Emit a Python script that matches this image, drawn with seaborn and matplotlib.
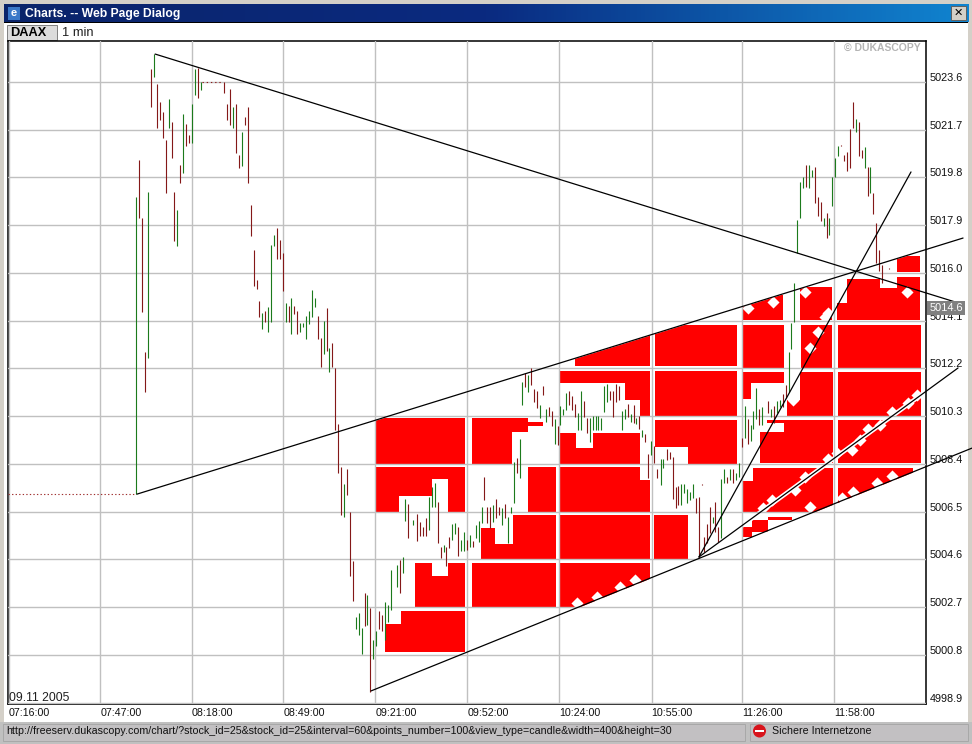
import numpy as np
import pandas as pd
import matplotlib
matplotlib.use("Agg")
import matplotlib.pyplot as plt
from matplotlib.patches import Rectangle, Circle
from matplotlib.transforms import ScaledTranslation
import seaborn as sns

# one minute bars (G = up bar, R = down bar)
bar_minute = [
    480, 481, 482, 483, 484, 485.1, 486.1, 487.1, 488.2, 489.2,
    490.2, 491.2, 492.2, 492.9, 493.9, 495, 496, 497, 498, 499,
    500.1, 501.1, 502.1, 509.9, 511, 512, 513, 514, 515, 516,
    517.1, 518.1, 519.1, 520.1, 521.1, 521.8, 522.8, 523.9, 524.9, 525.9,
    526.9, 527.9, 529, 530, 531, 532, 532.7, 533.7, 534.7, 535.8,
    536.8, 537.8, 538.8, 539.8, 540.9, 541.9, 542.9, 543.9, 544.9, 545.6,
    546.6, 547.7, 548.7, 549.7, 550.7, 551.7, 552.8, 553.8, 554.8, 555.8,
    556.8, 557.9, 558.5, 559.6, 560.6, 561.6, 562.6, 563.6, 564.7, 565.7,
    566.7, 568.7, 569.8, 570.8, 571.5, 572.5, 574.2, 575.5, 576.6, 577.6,
    578.6, 579.6, 580.6, 581.7, 582.7, 583.7, 584.7, 585.4, 586.4, 587.4,
    588.5, 589.5, 590.5, 591.5, 592.5, 593.6, 594.6, 595.6, 596.6, 597.6,
    598.3, 599.3, 600.3, 601.4, 602.4, 603.4, 604.4, 605.4, 606.5, 607.5,
    608.5, 609.5, 610.6, 611.2, 612.3, 613.3, 614.3, 615.3, 616.4, 617.4,
    618.4, 619.4, 620.4, 621.4, 622.5, 623.5, 624.2, 625.2, 626.2, 627.2,
    628.2, 629.3, 630.3, 631.3, 632.3, 633.3, 634.4, 635.4, 636.4, 637,
    638.1, 639.1, 640.1, 641.2, 642.2, 643.2, 644.2, 645.2, 646.3, 647.3,
    648.3, 649.3, 650, 651, 652.1, 653.1, 654.1, 655.1, 656.1, 657.2,
    658.3, 659.2, 660.3, 661.4, 662.4, 663.4, 664.1, 665.1, 666.1, 667.1,
    668.2, 669.2, 670.2, 671.2, 672.2, 673.1, 674.1, 675.2, 676.1, 676.9,
    677.9, 678.9, 679.9, 681, 682, 683, 684, 685, 686, 687,
    688, 689, 689.8, 690.8, 691.8, 692.8, 694.9, 695.9, 696.9, 698,
    699, 700, 701, 702, 702.7, 703.7, 704.8, 705.8, 706.8, 707.8,
    708.8, 709.9, 710.9, 711.9, 712.9, 713.9, 714.9, 715.6, 716.6, 717.7,
    718.7, 719.7, 720.7, 721.8, 722.8, 723.8, 724.8, 725.8, 726.9, 727.9,
    728.9, 729.6, 730.6, 731.6, 732.6, 733.7, 736,
]
bar_high = [
    5019.02, 5020.49, 5018.19, 5012.85, 5019.22, 5024.11, 5024.71, 5023.52, 5022.80, 5022.40,
    5021.29, 5022.92, 5022.01, 5019.22, 5018.50, 5020.29, 5022.32, 5021.93, 5021.49, 5022.72,
    5024.11, 5024.15, 5023.60, 5023.60, 5022.72, 5023.32, 5022.60, 5022.72, 5020.69, 5021.61,
    5022.20, 5022.60, 5018.70, 5016.91, 5015.72, 5014.88, 5014.41, 5014.49, 5014.64, 5017.11,
    5017.51, 5017.79, 5017.31, 5016.79, 5014.80, 5014.68, 5015.00, 5014.68, 5014.49, 5014.01,
    5014.01, 5014.29, 5014.49, 5015.32, 5015.00, 5014.29, 5013.41, 5014.09, 5014.60, 5013.01,
    5013.21, 5012.22, 5009.99, 5008.28, 5007.60, 5008.20, 5006.49, 5004.54, 5002.31, 5002.47,
    5001.87, 5003.26, 5003.18, 5002.67, 5001.39, 5001.75, 5002.55, 5002.39, 5002.91, 5002.79,
    5004.18, 5004.38, 5004.58, 5004.70, 5007.00, 5006.81, 5006.17, 5006.41, 5006.09, 5005.89,
    5006.25, 5007.08, 5007.48, 5007.64, 5006.89, 5005.09, 5005.17, 5005.09, 5005.49, 5006.01,
    5006.05, 5005.89, 5005.37, 5005.69, 5005.37, 5005.57, 5005.33, 5005.97, 5006.13, 5006.69,
    5007.88, 5006.69, 5006.69, 5006.77, 5007.00, 5006.69, 5006.65, 5006.81, 5006.29, 5006.69,
    5008.48, 5008.64, 5009.39, 5011.66, 5012.02, 5011.94, 5012.22, 5011.38, 5011.30, 5010.75,
    5011.50, 5010.59, 5010.67, 5010.51, 5010.19, 5009.91, 5010.71, 5010.59, 5011.22, 5011.30,
    5011.10, 5010.78, 5010.43, 5011.30, 5010.90, 5010.23, 5010.23, 5010.31, 5010.31, 5010.31,
    5010.23, 5011.50, 5011.58, 5011.30, 5011.30, 5011.58, 5011.50, 5010.51, 5010.59, 5010.78,
    5010.39, 5010.75, 5010.23, 5010.31, 5009.75, 5009.59, 5008.80, 5009.31, 5009.11, 5008.20,
    5008.60, 5008.60, 5008.99, 5008.87, 5008.68, 5007.48, 5007.52, 5007.60, 5007.60, 5007.40,
    5007.28, 5007.60, 5007.04, 5007.08, 5007.60, 5005.49, 5006.01, 5006.69, 5006.29, 5006.89,
    5005.89, 5007.80, 5008.20, 5007.88, 5008.20, 5008.20, 5008.04, 5008.44, 5009.43, 5010.71,
    5010.19, 5009.95, 5010.51, 5011.42, 5010.59, 5010.67, 5010.90, 5010.59, 5010.71, 5010.90,
    5010.94, 5011.18, 5011.54, 5012.85, 5014.01, 5015.60, 5018.11, 5019.62, 5019.82, 5020.29,
    5020.29, 5020.10, 5020.22, 5019.02, 5018.82, 5018.19, 5018.38, 5018.19, 5019.82, 5020.57,
    5021.05, 5021.09, 5020.69, 5020.81, 5021.73, 5022.80, 5022.12, 5022.01, 5020.89, 5021.01,
    5020.22, 5020.22, 5019.18, 5017.99, 5016.91, 5016.32, 5016.20,
]
bar_low = [
    5007.20, 5018.19, 5014.45, 5011.26, 5012.62, 5022.60, 5023.80, 5021.77, 5022.09, 5021.37,
    5019.18, 5021.77, 5020.57, 5017.27, 5017.07, 5019.58, 5019.98, 5021.05, 5021.17, 5021.17,
    5023.08, 5022.96, 5023.28, 5023.16, 5022.09, 5021.89, 5021.77, 5020.77, 5020.18, 5020.25,
    5021.89, 5019.58, 5017.47, 5015.48, 5015.36, 5014.25, 5013.77, 5014.05, 5013.65, 5014.05,
    5017.07, 5016.55, 5016.55, 5015.28, 5014.05, 5014.05, 5013.57, 5014.37, 5013.57, 5013.65,
    5013.85, 5013.37, 5013.97, 5014.25, 5014.64, 5013.37, 5012.26, 5012.77, 5012.89, 5012.06,
    5012.26, 5009.75, 5008.04, 5006.37, 5006.29, 5007.16, 5003.94, 5002.95, 5001.83, 5001.59,
    5000.84, 5001.95, 5001.99, 4999.33, 5000.64, 5001.16, 5001.83, 5001.75, 5001.39, 5002.11,
    5002.59, 5003.50, 5003.26, 5004.06, 5006.13, 5005.45, 5005.97, 5005.33, 5005.53, 5005.53,
    5005.53, 5005.77, 5006.69, 5006.69, 5005.25, 5004.66, 5004.90, 5004.34, 5005.06, 5005.37,
    5005.61, 5004.74, 5004.94, 5004.94, 5004.98, 5005.09, 5005.09, 5005.45, 5005.29, 5006.05,
    5006.96, 5006.05, 5005.85, 5006.09, 5006.25, 5006.37, 5005.97, 5006.25, 5005.25, 5006.45,
    5006.85, 5008.04, 5007.84, 5010.75, 5011.46, 5011.26, 5011.54, 5010.86, 5010.63, 5010.23,
    5011.14, 5010.07, 5010.31, 5009.91, 5009.19, 5009.15, 5009.95, 5010.35, 5010.55, 5010.75,
    5010.55, 5010.27, 5009.75, 5009.75, 5010.27, 5009.63, 5009.27, 5009.75, 5009.75, 5009.75,
    5009.75, 5010.47, 5010.86, 5010.94, 5010.27, 5010.86, 5010.94, 5009.75, 5010.19, 5010.27,
    5010.07, 5010.03, 5009.99, 5009.79, 5009.47, 5009.27, 5007.84, 5008.76, 5008.44, 5007.84,
    5007.56, 5008.24, 5008.56, 5008.60, 5007.00, 5006.65, 5006.77, 5006.77, 5007.24, 5006.85,
    5006.96, 5007.04, 5006.45, 5004.66, 5007.56, 5004.90, 5005.25, 5005.65, 5006.05, 5005.69,
    5005.29, 5005.45, 5007.64, 5007.64, 5007.76, 5007.64, 5007.76, 5007.88, 5009.07, 5009.43,
    5009.19, 5009.31, 5009.79, 5010.19, 5009.95, 5009.95, 5010.43, 5010.27, 5010.03, 5010.43,
    5010.67, 5010.67, 5011.02, 5011.26, 5012.97, 5014.05, 5016.79, 5018.19, 5019.38, 5019.42,
    5019.38, 5019.82, 5018.78, 5018.27, 5018.07, 5017.87, 5017.39, 5017.51, 5018.66, 5019.82,
    5020.65, 5021.05, 5020.45, 5020.06, 5020.18, 5021.77, 5021.61, 5020.65, 5020.57, 5020.18,
    5019.06, 5019.18, 5018.35, 5016.40, 5016.08, 5015.60, 5016.16,
]
bar_dir = list(
    "GRRRGRGRRR" "RGRRGRGRRG" "GRGRRRGRRG" "RRRRRRGRGG"
    "GRRRGRGRRG" "GGGGGRRGRG" "RRRRGRRRGG" "GRGRGGRRGG"
    "GGRGGRGRRR" "RGGGRRGRRG" "GRGGRGRGGG" "RRRGRRGRGG"
    "GRGGRGRRRG" "RGRRGRGGGR" "RRGGRRGGGG" "GGGRRRRGGR"
    "GRGRGRRGRR" "GGRRRRRGGG" "GGRRRRRRGR" "RGGRGRGGRG"
    "RGGGRGRGRG" "GRRGGGGGGR" "GGRRRGRGGG" "GRRRRRGRRG"
    "RGRRRRR"
)

# the other marks
dotted_minute = [436.4, 480]
dotted_price = [5007.20, 5007.20]
flat_minute = [502.5, 509.5]
flat_price = [5023.60, 5023.60]

falling_t = [486.4, 760.8]
falling_p = [5024.71, 5014.76]
upper_t = [480.2, 761.1]
upper_p = [5007.20, 5017.39]
lower_t = [559.8, 764.1]
lower_p = [4999.37, 5009.03]
second_t = [671.3, 759.4]
second_p = [5004.70, 5012.22]
steep_t = [671.3, 743.4]
steep_p = [5004.70, 5020.02]

# red zones: start, end, low, high
zone_t0 = [
    561.5, 561.5, 569.3, 580.5, 586, 574.8, 580.5, 586, 570, 564.6,
    594.1, 613.2, 594.1, 613.2, 608.1, 597.2, 602, 594.1,
    629.2, 624.1, 646.2, 651.3, 624.1, 629.5, 635.3, 624.1, 651.3, 624.1, 624.1,
    656.4, 656.4, 656.4, 667.6, 656,
    686.3, 705.7, 686.3, 706, 686.3, 686.3, 705.7, 701.2, 700.2, 692, 694.4,
    689.7, 686.3, 689.4, 686.3, 694.8,
    718.2, 721.6, 732.9, 738.6, 738.6, 718.6, 718.6, 718.6, 718.6,
]
zone_t1 = [
    591.8, 569.3, 580.5, 586, 591.8, 580.5, 586, 591.8, 591.8, 591.8,
    613.2, 618.3, 607.7, 622.7, 622.7, 602, 608.1, 622.7,
    654.7, 654.7, 654.7, 654.7, 629.5, 635.3, 651.3, 651.3, 654.7, 654.7, 654.7,
    684.2, 684.2, 667.6, 684.2, 667.6,
    699.9, 716.5, 700.2, 716.5, 700.2, 689, 716.9, 705.7, 716.9, 700.2, 700.2,
    716.9, 689.7, 694.8, 689.4, 702.9,
    721.6, 732.9, 746.5, 746.5, 746.5, 746.8, 746.8, 746.8, 744.1,
]
zone_low = [
    5008.40, 5006.49, 5007.12, 5007.80, 5006.49, 5002.71, 5002.71, 5002.71, 5002.03, 5000.92,
    5009.67, 5009.91, 5008.40, 5006.49, 5004.58, 5004.58, 5004.58, 5002.71,
    5012.30, 5011.62, 5010.94, 5010.31, 5008.40, 5008.40, 5008.40, 5006.49, 5006.49, 5004.58, 5002.71,
    5012.30, 5010.31, 5009.07, 5008.40, 5004.58,
    5014.13, 5014.13, 5012.22, 5012.22, 5011.62, 5010.99, 5010.31, 5010.31, 5008.44, 5008.44, 5010.03,
    5006.49, 5006.49, 5005.69, 5005.49, 5006.17,
    5014.13, 5014.13, 5014.13, 5016.04, 5015.40, 5012.22, 5010.31, 5008.44, 5006.73,
]
zone_high = [
    5010.23, 5008.28, 5008.28, 5008.28, 5008.28, 5004.46, 5003.94, 5004.46, 5002.55, 5002.03,
    5010.23, 5010.07, 5009.67, 5008.28, 5006.37, 5005.85, 5005.21, 5004.46,
    5013.60, 5012.10, 5011.62, 5010.94, 5009.63, 5009.03, 5009.63, 5008.28, 5007.76, 5006.37, 5004.46,
    5013.93, 5012.10, 5010.15, 5010.15, 5006.37,
    5015.12, 5015.44, 5013.93, 5013.93, 5012.06, 5011.62, 5012.06, 5010.94, 5010.15, 5009.67, 5010.15,
    5008.24, 5007.72, 5006.17, 5005.89, 5006.29,
    5014.80, 5015.76, 5015.40, 5016.67, 5015.84, 5013.93, 5012.06, 5010.15, 5008.24,
]

# white specks where the fill frays along the trend lines
speck_t = [
    693.1, 696.1, 704, 707.4, 715.2, 718.2, 723.3, 726.1, 728.8, 732.9, 736.9, 742.4, 745.5,
    736.9, 731.8, 723.7, 719.9, 709.1, 629.8, 636.6, 644.5, 649.6,
    714.2, 711.8, 709.1, 703.3, 688, 696.5, 707.4, 742, 715.2,
]
speck_p = [
    5006.65, 5006.96, 5007.36, 5007.88, 5008.60, 5008.84, 5008.95, 5009.35, 5009.79, 5009.95, 5010.47, 5010.82, 5011.14,
    5007.92, 5007.64, 5007.28, 5007.04, 5006.69, 5002.87, 5003.11, 5003.50, 5003.78,
    5014.25, 5013.65, 5013.01, 5010.94, 5014.60, 5014.84, 5015.24, 5015.24, 5014.41,
]

x_ticks = [436.6, 467.8, 498.8, 530.0, 561.3, 592.5, 623.8, 655.2, 686.0, 717.3]
x_labels = ["07:16:00", "07:47:00", "08:18:00", "08:49:00", "09:21:00",
            "09:52:00", "10:24:00", "10:55:00", "11:26:00", "11:58:00"]
y_ticks = [5023.6, 5021.7, 5019.8, 5017.9, 5016.0, 5014.1, 5012.2,
           5010.3, 5008.4, 5006.5, 5004.6, 5002.7, 5000.8, 4998.9]
last_price = 5014.6

sns.set_theme(style="white")
plt.rcParams["font.family"] = ["Liberation Sans", "DejaVu Sans"]

fig = plt.figure(figsize=(9.72, 7.44), dpi=100)

# window around the chart, in screen pixels
chrome = fig.add_axes([0, 0, 1, 1], zorder=0)
chrome.set_xlim(0, 972)
chrome.set_ylim(744, 0)
chrome.axis("off")
chrome.add_patch(Rectangle((0, 0), 972, 744, color="#d4d0c8", lw=0))
chrome.add_patch(Rectangle((4, 23), 964, 700, color="white", lw=0))
gradient = np.linspace(0, 1, 256).reshape(1, -1)
blues = matplotlib.colors.LinearSegmentedColormap.from_list("title", ["#0a246a", "#0a2a80", "#1084d0"])
chrome.imshow(gradient, extent=(4, 968, 22, 4), aspect="auto", cmap=blues, zorder=1)
chrome.set_xlim(0, 972)
chrome.set_ylim(744, 0)
chrome.add_patch(Rectangle((4, 22), 964, 1.2, color="black", lw=0, zorder=2))
chrome.text(25, 13.5, "Charts. -- Web Page Dialog", color="white", fontsize=8.7,
            fontweight="bold", va="center", zorder=3)
chrome.add_patch(Rectangle((8, 7), 12, 13, color="#3a78c8", lw=0, zorder=3))
chrome.text(14, 13.5, "e", color="white", fontsize=8, fontweight="bold", ha="center", va="center", zorder=4)
chrome.add_patch(Rectangle((951, 6), 15, 14, facecolor="#d4d0c8", edgecolor="#606060", lw=0.7, zorder=3))
chrome.text(958.5, 13, "\u2715", color="black", fontsize=8, fontweight="bold", ha="center", va="center",
            family="DejaVu Sans", zorder=4)
chrome.add_patch(Rectangle((7, 25), 50, 15, facecolor="#dcdcdc", edgecolor="#808080", lw=0.7, zorder=3))
chrome.text(10.5, 32.5, "DAAX", color="black", fontsize=9.2, fontweight="bold", va="center", zorder=4)
chrome.text(62, 32.5, "1 min", color="#202020", fontsize=9.3, va="center", zorder=4)
chrome.add_patch(Rectangle((0, 722), 972, 22, color="#c0c0c0", lw=0, zorder=3))
chrome.add_patch(Rectangle((3, 724), 742, 17, facecolor="#c2c0c2", edgecolor="#a4a4a4", lw=0.6, zorder=3))
chrome.add_patch(Rectangle((750, 724), 218, 17, facecolor="#c2c0c2", edgecolor="#a4a4a4", lw=0.6, zorder=3))
chrome.text(6, 731.5, "http://freeserv.dukascopy.com/chart/?stock_id=25&stock_id=25&interval=60"
            "&points_number=100&view_type=candle&width=400&height=30",
            color="#101010", fontsize=7.7, va="center", zorder=4)
chrome.add_patch(Circle((759.5, 731), 6.5, color="#d8141c", lw=0, zorder=4))
chrome.add_patch(Rectangle((755, 729.8), 9, 2.6, color="white", lw=0, zorder=5))
chrome.text(772, 731.5, "Sichere Internetzone", color="#101010", fontsize=7.7, va="center", zorder=4)

ax = fig.add_axes([8 / 972, 1 - 704 / 744, 918 / 972, 663 / 744], zorder=2)
ax.set_xlim(436.37, 748.5)
ax.set_ylim(4998.85, 5025.23)
ax.set_facecolor("white")

ax.bar(zone_t0, np.array(zone_high) - np.array(zone_low), width=np.array(zone_t1) - np.array(zone_t0),
       bottom=zone_low, align="edge", color="#ff0000", lw=0, zorder=1)
ax.fill_between(upper_t, upper_p, 5030, color="white", lw=0, zorder=1.5)
ax.fill_between(lower_t, lower_p, 4990, color="white", lw=0, zorder=1.5)
ax.plot(second_t, second_p, color="white", lw=3.2, zorder=1.6)
ax.scatter(speck_t, speck_p, s=38, marker="D", color="white", lw=0, zorder=1.7)

ax.set_axisbelow(False)
ax.grid(True, color="#c0c0c0", lw=1.0)
ax.set_xticks(x_ticks)
ax.set_xticklabels(x_labels, ha="left", fontsize=7.7, color="#101010")
ax.set_yticks(y_ticks)
ax.set_yticklabels([f"{v:.1f}" for v in y_ticks], va="center", fontsize=7.8, color="#101010")
ax.yaxis.tick_right()
ax.tick_params(axis="x", length=0, pad=3)
ax.tick_params(axis="y", length=0, pad=2.5)
# price labels sit just above their grid line
lift = ScaledTranslation(0, 4 / 100, fig.dpi_scale_trans)
for lbl in ax.get_yticklabels():
    lbl.set_transform(lbl.get_transform() + lift)
for s in ax.spines.values():
    s.set_color("black")
    s.set_linewidth(1.1)

bars = pd.DataFrame({"minute": bar_minute, "high": bar_high, "low": bar_low, "dir": bar_dir})
bar_colors = bars["dir"].map({"G": "#1c7a1c", "R": "#841818"})
ax.vlines(bars["minute"], bars["low"], bars["high"], colors=bar_colors, lw=1.9, alpha=0.07, zorder=2.9)
ax.vlines(bars["minute"], bars["low"], bars["high"], colors=bar_colors, lw=0.72, snap=True, zorder=3)

ax.plot(dotted_minute, dotted_price, color="#a03030", lw=0.8, ls=(0, (1.2, 2)), zorder=3)
ax.plot(flat_minute, flat_price, color="#8c1c1c", lw=0.8, ls=(0, (1.2, 2.6)), zorder=3)

trend = pd.concat([
    pd.DataFrame({"t": falling_t, "p": falling_p, "name": "falling"}),
    pd.DataFrame({"t": upper_t, "p": upper_p, "name": "upper"}),
    pd.DataFrame({"t": lower_t, "p": lower_p, "name": "lower"}),
    pd.DataFrame({"t": second_t, "p": second_p, "name": "second"}),
    pd.DataFrame({"t": steep_t, "p": steep_p, "name": "steep"}),
])
sns.lineplot(data=trend, x="t", y="p", units="name", estimator=None, sort=False, color="black",
             lw=0.9, clip_on=False, zorder=5, ax=ax)
ax.set_xlabel("")
ax.set_ylabel("")

ax.text(0.0015, -0.0005, "09.11 2005", transform=ax.transAxes, fontsize=8.8, color="#202020", va="bottom")
ax.text(0.9943, 0.9975, "\u00a9 DUKASCOPY", transform=ax.transAxes, fontsize=7.5, fontweight="bold",
        color="#b4b4b4", ha="right", va="top")
ax.text(1.0038, last_price, f"{last_price:.1f}", transform=ax.get_yaxis_transform(), fontsize=7.9, color="white",
        va="center", ha="left", zorder=6, clip_on=False,
        bbox=dict(boxstyle="square,pad=0.2", facecolor="#808080", edgecolor="none"))

fig.savefig("out.png", dpi=100)
